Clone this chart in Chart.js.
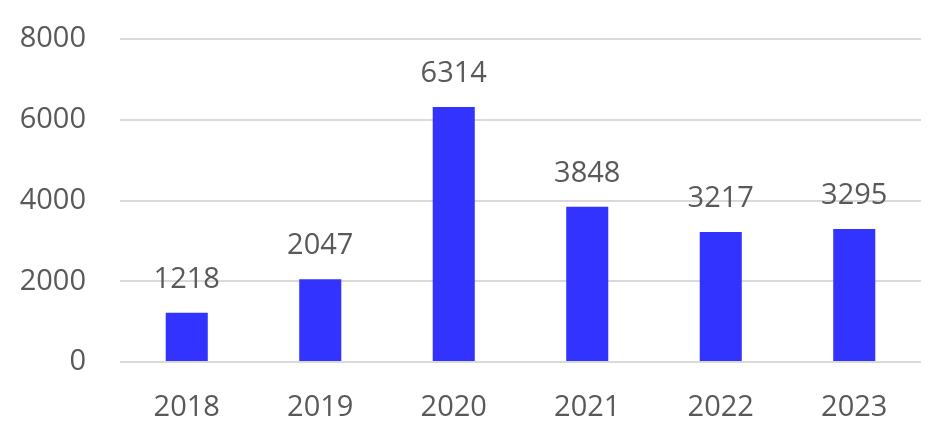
<!DOCTYPE html>
<html>
<head>
<meta charset="utf-8">
<script src="https://cdn.jsdelivr.net/npm/chart.js@4"></script>
<style>
  html, body { margin: 0; padding: 0; background: #fff; }
  #wrap { width: 944px; height: 437px; }
</style>
</head>
<body>
<div id="wrap"><canvas id="chart" width="944" height="437"></canvas></div>
<script>
const years = ['2018', '2019', '2020', '2021', '2022', '2023'];
const counts = [1218, 2047, 6314, 3848, 3217, 3295];
const yTicks = [0, 2000, 4000, 6000, 8000];

const textColor = '#595959';
const fontFamily = '"Open Sans", "Liberation Sans", sans-serif';

// draw the value above each bar
const valueLabels = {
    id: 'valueLabels',
    afterDatasetsDraw(chart) {
        const ctx = chart.ctx;
        const meta = chart.getDatasetMeta(0);
        ctx.save();
        ctx.font = '29px ' + fontFamily;
        ctx.fillStyle = textColor;
        ctx.textAlign = 'center';
        ctx.textBaseline = 'alphabetic';
        meta.data.forEach((bar, i) => {
            ctx.fillText(String(counts[i]), bar.x, bar.y - 25);
        });
        ctx.restore();
    }
};

new Chart(document.getElementById('chart').getContext('2d'), {
    type: 'bar',
    data: {
        labels: years,
        datasets: [{
            data: counts,
            backgroundColor: '#3333ff',
            barPercentage: 0.315,
            categoryPercentage: 1
        }]
    },
    options: {
        responsive: false,
        animation: false,
        layout: { padding: { left: 0, right: 23, top: 39, bottom: 0 } },
        plugins: {
            legend: { display: false },
            tooltip: { enabled: false }
        },
        scales: {
            x: {
                grid: { display: false, drawTicks: false },
                border: { display: false },
                ticks: {
                    color: textColor,
                    font: { family: fontFamily, size: 29 },
                    padding: 28
                },
                afterFit(scale) { scale.height = 75; }
            },
            y: {
                min: 0,
                max: 8000,
                afterBuildTicks(scale) {
                    scale.ticks = yTicks.map(v => ({ value: v }));
                },
                grid: { color: '#d9d9d9', lineWidth: 2, drawTicks: false },
                border: { display: false },
                ticks: {
                    color: textColor,
                    font: { family: fontFamily, size: 29 },
                    padding: 34,
                    callback: v => String(v)
                },
                afterFit(scale) {
                    scale.width = 120;
                    scale.paddingTop = 0;
                    scale.paddingBottom = 0;
                }
            }
        }
    },
    plugins: [valueLabels]
});
</script>
</body>
</html>
